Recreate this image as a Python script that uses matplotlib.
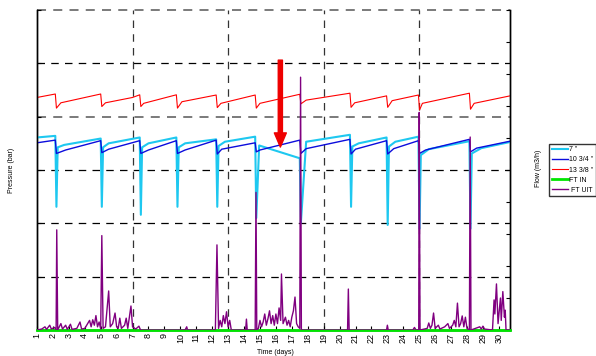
import matplotlib
matplotlib.use("Agg")
import matplotlib.pyplot as plt

plt.rcParams['font.family'] = ['Liberation Sans', 'DejaVu Sans']

# ---------------- data ----------------
red_days = [1.0, 2.15, 2.22, 2.5, 5.0, 5.07, 5.3, 7.0, 7.45, 7.52, 7.7, 9.75, 9.82, 10.1,
            12.25, 12.32, 12.55, 14.7, 14.77, 15.0, 17.5, 17.57, 17.9, 20.65, 20.72, 20.95,
            22.95, 23.02, 23.3, 24.95, 25.02, 25.2, 28.15, 28.22, 28.45, 30.7]
red_vals = [43.6, 44.25, 41.6, 42.6, 44.25, 41.9, 42.6, 43.6, 44.1, 41.9, 42.5, 44.1, 41.6, 42.8,
            44.06, 41.7, 42.5, 44.06, 41.6, 42.5, 44.2, 42.4, 43.1, 44.4, 41.75, 42.6,
            43.9, 41.75, 43.0, 44.06, 41.25, 42.5, 44.4, 41.4, 42.5, 43.9]

cyan_days = [1.0, 2.15, 2.22, 2.3, 2.7, 5.0, 5.07, 5.15, 5.5, 7.45, 7.52, 7.6, 8.0,
             9.75, 9.82, 9.9, 10.3, 12.25, 12.32, 12.4, 12.8, 14.7, 14.77, 14.95, 15.85,
             17.5, 17.57, 17.9, 20.65, 20.72, 20.8, 21.2, 22.95, 23.02, 23.1, 23.5,
             24.95, 25.02, 25.1, 25.6, 28.15, 28.22, 28.3, 28.9, 30.7]
cyan_vals = [36.1, 36.4, 23.1, 34.25, 34.7, 35.9, 23.1, 34.25, 35.0, 36.1, 21.6, 34.25, 35.0,
             36.1, 23.1, 34.25, 35.0, 35.75, 23.1, 34.5, 35.3, 36.25, 21.0, 34.6, 33.75,
             32.2, 20.1, 35.3, 36.6, 23.1, 34.4, 35.0, 36.1, 19.7, 34.4, 35.3,
             36.25, 19.0, 32.8, 33.9, 35.4, 19.0, 33.1, 34.1, 35.25]

blue_days = [1.0, 2.15, 2.22, 2.8, 5.0, 5.07, 5.5, 7.45, 7.52, 8.0, 9.75, 9.82, 10.3,
             12.25, 12.32, 12.6, 14.7, 14.77, 15.0, 17.5, 17.57, 17.9, 20.65, 20.72, 21.0,
             22.95, 23.02, 23.4, 24.95, 25.02, 25.4, 28.15, 28.22, 28.6, 30.7]
blue_vals = [35.1, 35.6, 33.1, 33.75, 35.5, 33.25, 33.9, 35.5, 33.1, 33.75, 35.5, 33.1, 33.75,
             35.6, 33.0, 33.9, 35.1, 33.4, 33.75, 35.6, 33.1, 34.0, 35.75, 33.0, 33.9,
             35.5, 33.0, 34.0, 35.5, 33.1, 33.75, 35.75, 33.4, 34.1, 35.4]

ftin_days = [1.0, 30.7]
ftin_vals = [0.0, 0.0]

ftuit_days = [1.0, 1.3, 1.5, 1.6, 1.8, 1.9, 2.1, 2.2, 2.24, 2.3, 2.5, 2.6, 2.8, 2.9, 3.1, 3.2,
              3.5, 3.7, 3.8, 4.0, 4.3, 4.4, 4.5, 4.6, 4.7, 4.8, 4.9, 5.0, 5.07, 5.15, 5.3,
              5.5, 5.6, 5.75, 5.9, 6.0, 6.1, 6.2, 6.3, 6.5, 6.6, 6.7, 6.9, 7.0, 7.2, 7.4, 7.5,
              10.3, 10.4, 10.45, 12.2, 12.3, 12.4, 12.5, 12.6, 12.7, 12.8, 12.9, 13.0, 13.1, 13.2,
              14.1, 14.15, 14.2, 14.7, 14.75, 14.8, 14.9, 15.0, 15.1, 15.2, 15.3, 15.4, 15.5,
              15.6, 15.7, 15.8, 15.9, 16.0, 16.1, 16.2, 16.3, 16.35, 16.45, 16.6, 16.7, 16.8,
              16.9, 17.0, 17.1, 17.2, 17.3, 17.4, 17.5, 17.55, 17.6, 20.5, 20.55, 20.6,
              22.95, 23.0, 23.05, 24.6, 24.7, 24.8, 24.97, 25.0, 25.05, 25.5, 25.6, 25.7, 25.8,
              25.9, 26.0, 26.2, 26.3, 26.6, 26.8, 26.9, 27.1, 27.2, 27.3, 27.4, 27.5, 27.6,
              27.7, 27.8, 27.9, 28.0, 28.15, 28.2, 28.25, 28.8, 28.9, 29.0, 29.1, 29.6, 29.7,
              29.75, 29.85, 29.95, 30.1, 30.15, 30.25, 30.35, 30.4, 30.45, 30.7]
ftuit_vals = [0, 0.3, 1.0, 0.2, 1.5, 0.3, 0.8, 0, 31.3, 0, 2.0, 0.3, 1.5, 0.2, 1.8, 0.2,
              0.5, 2.5, 0.3, 0.5, 3.0, 1.0, 3.2, 1.5, 4.5, 1.0, 2.5, 0.3, 29.5, 0.5, 1.0,
              12.2, 1.0, 2.0, 5.3, 1.0, 0.5, 3.7, 0.5, 1.5, 3.7, 0.5, 7.5, 1.0, 0.3, 1.2, 0,
              0, 1.0, 0, 0, 26.6, 0.5, 3.0, 1.0, 4.5, 2.0, 5.7, 1.0, 3.0, 0,
              0, 3.4, 0, 0, 43.0, 0, 0.5, 3.0, 1.0, 2.5, 5.0, 1.5, 3.5,
              6.0, 2.0, 4.5, 1.5, 5.0, 2.0, 6.9, 3.0, 17.5, 2.0, 4.0, 1.5, 3.0,
              1.0, 4.0, 6.0, 10.3, 2.0, 1.0, 0.5, 79.0, 0, 0, 12.8, 0,
              0, 1.5, 0, 0, 0.8, 0, 0, 68.0, 0, 0.5, 2.2, 0.5, 1.5,
              5.3, 0.5, 1.5, 0.3, 1.0, 2.0, 0.5, 1.5, 3.0, 1.0, 8.4, 1.0, 2.0,
              4.4, 1.0, 4.0, 0.5, 0, 60.3, 0, 1.0, 0.3, 1.2, 0.3, 0, 9.4,
              5.0, 14.4, 2.0, 10.0, 3.0, 12.0, 4.0, 6.2, 0, 0]

x_ticks = list(range(1, 31))
x_tick_labels = [str(t) for t in x_ticks]
vline_days = [7, 13, 19, 25]
legend_labels = ['7 "', '10 3/4 "', '13 3/8 "', 'FT IN', ' FT UIT']
arrow_day = 16.28
arrow_from, arrow_to = 50.6, 34.3

# ---------------- figure ----------------
W, H = 596, 356
fig = plt.figure(figsize=(W / 100, H / 100), dpi=100)
L, R, T, B = 37, 510, 10, 330
ax = fig.add_axes([L / W, 1 - B / H, (R - L) / W, (B - T) / H])
ax2 = ax.twinx()

ax.set_xlim(1, 30.7)
ax.set_ylim(0, 60)
ax2.set_ylim(0, 100)

# grid lines
for yv in [10, 20, 30, 50]:
    ax.axhline(yv, color='black', lw=0.9, ls=(0, (6, 5)), zorder=1)
for yv in [40, 60]:
    ax.axhline(yv, color='#707070', lw=1.3, ls=(0, (5, 4)), zorder=1, clip_on=False)
for xv in vline_days:
    ax.axvline(xv, color='#333333', lw=0.9, ls=(0, (6, 5)), zorder=1)

l1, = ax.plot(cyan_days, cyan_vals, color='#1ec8f0', lw=1.5, zorder=3)
l2, = ax.plot(blue_days, blue_vals, color='#0c0cdc', lw=1.0, zorder=4)
l3, = ax.plot(red_days, red_vals, color='#ff0000', lw=0.8, zorder=4)
l4, = ax2.plot(ftin_days, ftin_vals, color='#00e600', lw=2.0, zorder=3, clip_on=False)
l5, = ax2.plot(ftuit_days, ftuit_vals, color='#800080', lw=1.0, zorder=4)

# red arrow
ax.annotate('', xy=(arrow_day, arrow_to), xytext=(arrow_day, arrow_from),
            arrowprops=dict(arrowstyle='simple,head_length=0.85,head_width=0.72,tail_width=0.25',
                            color='#ee0000', mutation_scale=12, shrinkA=0, shrinkB=0),
            zorder=6)

# axes styling
ax.set_xticks(x_ticks)
ax.set_xticklabels(x_tick_labels, rotation=90, fontsize=6.5)
ax.set_yticks(range(0, 61, 10))
ax.set_yticklabels([])
ax2.set_yticks(range(0, 101, 10))
ax2.set_yticklabels([])
for a in (ax, ax2):
    a.tick_params(direction='in', length=3, width=0.8, pad=2)
    a.spines['top'].set_visible(False)
    for s in ('left', 'right', 'bottom'):
        a.spines[s].set_linewidth(1.0)

fig.text(275 / W, 1 - 352 / H, 'Time (days)', ha='center', va='center', fontsize=5)
fig.text(12 / W, 1 - 170 / H, 'Pressure (bar)', ha='center', va='center', rotation=90, fontsize=5)
fig.text(538 / W, 1 - 168 / H, 'Flow (m3/h)', ha='center', va='center', rotation=90, fontsize=5)

leg = fig.legend([l1, l2, l3, l4, l5], legend_labels, loc='center',
                 bbox_to_anchor=(572.5 / W, 1 - 170 / H), bbox_transform=fig.transFigure,
                 fontsize=5, handlelength=2.4, handletextpad=0.1, labelspacing=0.45,
                 borderpad=0.35, borderaxespad=0, fancybox=False, framealpha=1)
leg.get_frame().set_edgecolor('#333333')
leg.get_frame().set_linewidth(1.0)

fig.savefig('out.png', dpi=100)
